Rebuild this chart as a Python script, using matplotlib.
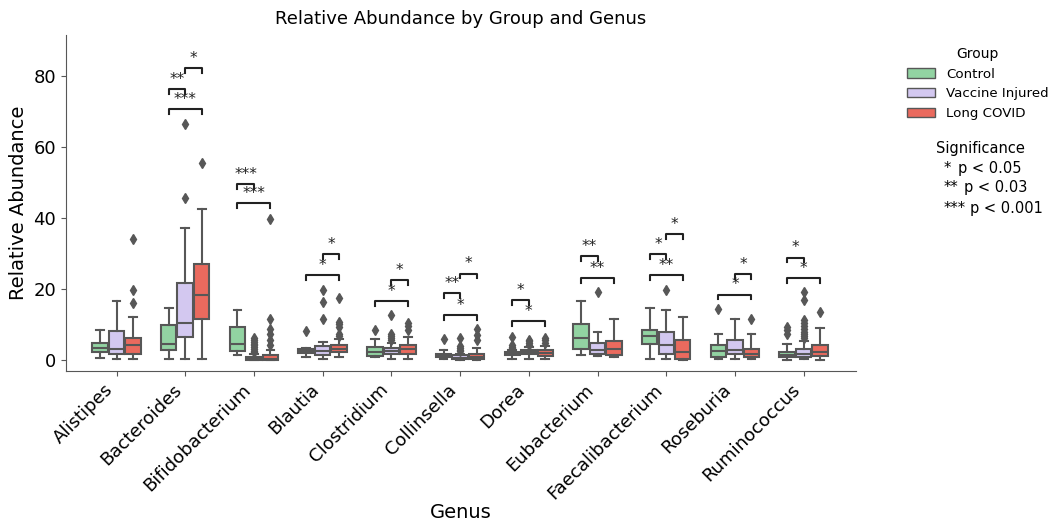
import matplotlib
matplotlib.use("Agg")
import matplotlib.pyplot as plt
from matplotlib.patches import Patch

# ================================
# Data
# ================================
genera = ['Alistipes', 'Bacteroides', 'Bifidobacterium', 'Blautia', 'Clostridium',
          'Collinsella', 'Dorea', 'Eubacterium', 'Faecalibacterium', 'Roseburia',
          'Ruminococcus']
groups = ['Control', 'Vaccine Injured', 'Long COVID']
colors = ['#92d3a2', '#d3c8f0', '#ea6a5e']

# Control
ctrl_lo = [0.6, 0.5, 1.6, 1.0, 0.8, 0.4, 0.5, 1.4, 0.4, 0.4, 0.2]
ctrl_q1 = [2.3, 2.8, 2.7, 2.1, 1.2, 0.8, 1.4, 3.3, 4.5, 0.8, 0.8]
ctrl_med = [3.5, 4.5, 4.7, 2.5, 2.2, 1.1, 1.7, 6.4, 6.8, 2.6, 1.4]
ctrl_q3 = [5.0, 10.0, 9.4, 3.2, 3.8, 1.9, 2.3, 10.3, 8.6, 4.4, 2.3]
ctrl_hi = [8.6, 14.7, 14.1, 3.4, 5.9, 2.8, 3.0, 16.7, 14.8, 7.5, 4.7]
ctrl_out = [[], [], [], [8.3], [8.6], [5.9], [3.4, 3.8, 4.2, 6.6], [], [], [14.3],
            [7.3, 8.5, 9.4]]

# Vaccine Injured
vacc_lo = [0.3, 0.3, 0.0, 0.3, 0.5, 0.0, 0.5, 1.1, 0.4, 0.4, 0.3]
vacc_q1 = [1.7, 6.6, 0.1, 1.4, 1.9, 0.4, 1.7, 1.9, 1.7, 1.7, 0.9]
vacc_med = [3.3, 10.5, 0.3, 2.6, 2.6, 0.7, 2.3, 2.8, 4.2, 2.8, 1.9]
vacc_q3 = [8.3, 21.8, 0.9, 4.0, 3.6, 1.4, 2.9, 4.9, 8.0, 5.6, 3.3]
vacc_hi = [16.7, 37.3, 1.8, 5.2, 5.0, 1.9, 3.8, 8.0, 14.1, 11.5, 5.5]
vacc_out = [[], [45.5, 66.5], [2.2, 2.7, 3.2, 3.7, 4.2, 4.7, 5.2, 5.8, 6.4],
            [11.5, 16.4, 19.9], [5.6, 6.2, 6.8, 7.3, 12.7], [2.5, 3.0, 3.5, 4.0, 6.3],
            [4.3, 4.8, 5.3, 5.8], [19.2], [19.9], [],
            [6.2, 6.8, 7.4, 8.0, 8.8, 9.6, 10.4, 11.2, 16.9, 19.2]]

# Long COVID
long_lo = [0.3, 0.3, 0.0, 0.8, 0.5, 0.0, 0.5, 0.8, 0.2, 0.3, 0.2]
long_q1 = [1.9, 11.5, 0.1, 2.2, 1.9, 0.3, 1.2, 1.4, 0.5, 0.8, 1.1]
long_med = [4.4, 18.3, 0.5, 3.3, 3.3, 0.9, 2.1, 3.3, 2.3, 1.9, 2.3]
long_q3 = [6.3, 27.2, 1.6, 4.4, 4.4, 1.9, 2.8, 5.4, 5.8, 3.3, 4.2]
long_hi = [12.2, 42.5, 3.0, 6.0, 6.6, 3.5, 4.0, 11.7, 12.2, 7.5, 9.1]
long_out = [[16.0, 19.9, 34.1], [55.6], [4.2, 5.6, 7.5, 8.9, 11.7, 39.6],
            [6.8, 7.3, 9.4, 10.1, 10.8, 17.4], [8.5, 9.6, 10.5], [5.6, 7.2, 8.9],
            [5.0, 5.6, 6.4], [], [], [11.7], [13.6]]

# significance brackets: genus index, group a, group b, height, label
sig_genus = [1, 1, 1, 2, 2, 3, 3, 4, 4, 5, 5, 5, 6, 6, 7, 7, 8, 8, 8, 9, 9, 10, 10]
sig_a = [0, 1, 0, 0, 0, 0, 1, 0, 1, 0, 0, 1, 0, 0, 0, 0, 0, 0, 1, 0, 1, 0, 0]
sig_b = [1, 2, 2, 1, 2, 2, 2, 2, 2, 2, 1, 2, 2, 1, 2, 1, 2, 1, 2, 2, 2, 2, 1]
sig_y = [76.2, 82.2, 70.6, 49.6, 44.1, 23.9, 29.8, 16.6, 22.5, 12.7, 19.0, 24.4,
         11.1, 16.9, 23.0, 29.3, 23.9, 29.8, 35.4, 18.5, 24.2, 23.0, 28.9]
sig_lab = ['**', '*', '***', '***', '***', '*', '*', '*', '*', '*', '**', '*',
           '*', '*', '**', '**', '**', '*', '*', '*', '*', '*', '*']

sig_key_stars = ['*', '**', '***']
sig_key_text = ['p < 0.05', 'p < 0.03', 'p < 0.001']

stats_by_group = [
    (ctrl_lo, ctrl_q1, ctrl_med, ctrl_q3, ctrl_hi, ctrl_out),
    (vacc_lo, vacc_q1, vacc_med, vacc_q3, vacc_hi, vacc_out),
    (long_lo, long_q1, long_med, long_q3, long_hi, long_out),
]

# ================================
# Plot
# ================================
offset = 0.24
box_w = 0.225
line_c = '#575757'

fig = plt.figure(figsize=(10.56, 5.22), dpi=100)
ax = fig.add_axes([0.0625, 0.2893, 0.748, 0.644])

for g, (lo, q1, med, q3, hi, out) in enumerate(stats_by_group):
    stats = []
    for i in range(len(genera)):
        stats.append(dict(whislo=lo[i], q1=q1[i], med=med[i], q3=q3[i],
                          whishi=hi[i], fliers=out[i]))
    pos = [i + (g - 1) * offset for i in range(len(genera))]
    ax.bxp(stats, positions=pos, widths=box_w, patch_artist=True,
           showfliers=True, manage_ticks=False,
           boxprops=dict(facecolor=colors[g], edgecolor=line_c, linewidth=1.5),
           medianprops=dict(color=line_c, linewidth=1.5),
           whiskerprops=dict(color=line_c, linewidth=1.5),
           capprops=dict(color=line_c, linewidth=1.5),
           flierprops=dict(marker='d', markerfacecolor=line_c,
                           markeredgecolor=line_c, markersize=5))

# brackets
leg_h = 1.4
for k in range(len(sig_genus)):
    x1 = sig_genus[k] + (sig_a[k] - 1) * offset
    x2 = sig_genus[k] + (sig_b[k] - 1) * offset
    y = sig_y[k]
    ax.plot([x1, x1, x2, x2], [y - leg_h, y, y, y - leg_h], color='#222222', lw=1.5)
    ax.text((x1 + x2) / 2, y + 0.6, sig_lab[k], ha='center', va='bottom',
            fontsize=11, color='#222222')

ax.set_xlim(-0.735, 10.76)
ax.set_ylim(-3.0, 91.5)
ax.set_xticks(range(len(genera)))
ax.set_xticklabels(genera, rotation=45, ha='right', fontsize=13)
ax.set_yticks([0, 20, 40, 60, 80])
ax.tick_params(axis='y', labelsize=13, color=line_c)
ax.tick_params(axis='x', color=line_c)
ax.spines['top'].set_visible(False)
ax.spines['right'].set_visible(False)
ax.spines['left'].set_color(line_c)
ax.spines['bottom'].set_color(line_c)
ax.set_title('Relative Abundance by Group and Genus', fontsize=13, pad=8)
ax.set_xlabel('Genus', fontsize=14, va='center')
ax.xaxis.set_label_coords(0.5, -0.42)
ax.set_ylabel('Relative Abundance', fontsize=14)

handles = [Patch(facecolor=colors[g], edgecolor=line_c, label=groups[g]) for g in range(3)]
fig.legend(handles=handles, title='Group', loc='upper left',
           bbox_to_anchor=(0.8473, 0.933), frameon=False, fontsize=9.6,
           title_fontsize=10, handlelength=2.1, handletextpad=0.85)

fig.text(980 / 1056, 1 - 148 / 522, 'Significance', ha='center', va='center', fontsize=10.5)
star_x = 944 / 1056
text_x = [958 / 1056, 964 / 1056, 970 / 1056]
key_y = [168, 188, 208]
for k in range(3):
    fig.text(star_x, 1 - key_y[k] / 522, sig_key_stars[k], ha='left', va='center', fontsize=10.5)
    fig.text(text_x[k], 1 - key_y[k] / 522, sig_key_text[k], ha='left', va='center', fontsize=10.5)

fig.savefig('out.png', dpi=100)
